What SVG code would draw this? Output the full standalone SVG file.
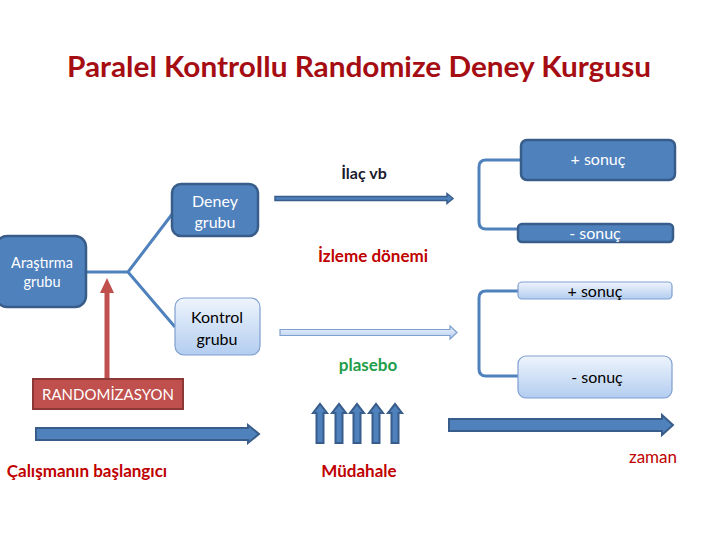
<svg xmlns="http://www.w3.org/2000/svg" width="720" height="540" viewBox="0 0 720 540">
<defs>
<linearGradient id="lg" x1="0" y1="0" x2="0" y2="1">
<stop offset="0" stop-color="#eef4fc"/>
<stop offset="1" stop-color="#b3cdf0"/>
</linearGradient>
<style>
text{font-family:Lato,"Open Sans","Liberation Sans",sans-serif;text-anchor:middle}
.dk{fill:#4f81bd;stroke:#385d8a;stroke-width:2.5}
.lt{fill:url(#lg);stroke:#7f9fcf;stroke-width:1.2}
.wt{fill:#ffffff;font-size:16px}
.bt{fill:#000000;font-size:16px}
.rd{fill:#c00000;font-size:17px;font-weight:bold}
.ln{fill:none;stroke:#4f81bd;stroke-width:3;stroke-linejoin:round}
.blk{fill:#4f81bd;stroke:#385d8a;stroke-width:2;stroke-linejoin:miter}
</style>
</defs>
<rect width="720" height="540" fill="#ffffff"/>
<text x="359" y="77" style="font-size:28px;font-weight:bold;fill:#a50d12" textLength="584" lengthAdjust="spacingAndGlyphs">Paralel Kontrollu Randomize Deney Kurgusu</text>

<g id="connectors">
<path class="ln" d="M86,272 H128 L173,213 M128,272 L175,327"/>
<path d="M107,378 V292" stroke="#c0504d" stroke-width="5" fill="none"/>
<path d="M100,293 L107,278 L114,293 Z" fill="#c0504d"/>
<path class="ln" d="M521,160 H486 Q479,160 479,167 V222 Q479,229 486,229 H518"/>
<path class="ln" d="M518,291 H486 Q479,291 479,298 V369 Q479,376 486,376 H518"/>
<path d="M275,196.5 H447 V193.5 L453,198.5 L447,203.5 V200.5 H275 Z" fill="#4f81bd" stroke="#385d8a" stroke-width="1.5"/>
<path d="M280,329.5 H450 V326 L457,332.5 L450,339 V335.5 H280 Z" fill="url(#lg)" stroke="#7f9fcf" stroke-width="1.2"/>
<path class="blk" d="M36,428 H248 V425 L259,434 L248,443 V440 H36 Z"/>
<path class="blk" d="M449,419 H662 V415 L673,425 L662,435 V431 H449 Z"/>
<g class="blk">
<path d="M316.5,443 V413 H313 L320,404 L327,413 H323.5 V443 Z"/>
<path d="M335.5,443 V413 H332 L339,404 L346,413 H342.5 V443 Z"/>
<path d="M353.5,443 V413 H350 L357,404 L364,413 H360.5 V443 Z"/>
<path d="M372.5,443 V413 H369 L376,404 L383,413 H379.5 V443 Z"/>
<path d="M391.5,443 V413 H388 L395,404 L402,413 H398.5 V443 Z"/>
</g>
</g>

<g id="arastirma">
<rect class="dk" x="-4" y="236" width="90" height="71" rx="11"/>
<text class="wt" x="42" y="268" style="font-size:14.5px">Araştırma</text>
<text class="wt" x="42" y="287" style="font-size:14.5px">grubu</text>
</g>
<g id="deney">
<rect class="dk" x="172" y="184" width="86" height="52" rx="9"/>
<text class="wt" x="215" y="207">Deney</text>
<text class="wt" x="215" y="228">grubu</text>
</g>
<g id="kontrol">
<rect class="lt" x="175" y="298" width="85" height="57" rx="9"/>
<text class="bt" x="217" y="323">Kontrol</text>
<text class="bt" x="217" y="345">grubu</text>
</g>
<g id="randomizasyon">
<rect x="33" y="379" width="150" height="30" fill="#c0504d" stroke="#8c3836" stroke-width="2"/>
<text class="wt" x="108" y="400" style="font-size:15px">RANDOMİZASYON</text>
</g>
<g id="sonuc1">
<rect class="dk" x="521" y="140" width="154" height="40" rx="6"/>
<text class="wt" x="598" y="165">+ sonuç</text>
</g>
<g id="sonuc2">
<rect class="dk" x="518" y="224" width="155" height="18" rx="4"/>
<text class="wt" x="595" y="239">- sonuç</text>
</g>
<g id="sonuc3">
<rect class="lt" x="518" y="282" width="154" height="17" rx="4"/>
<text class="bt" x="595" y="297">+ sonuç</text>
</g>
<g id="sonuc4">
<rect class="lt" x="518" y="356" width="154" height="42" rx="8"/>
<text class="bt" x="597" y="383">- sonuç</text>
</g>
<g id="labels">
<text x="364" y="179" style="font-size:16px;font-weight:bold;fill:#1a1a2e">İlaç vb</text>
<text class="rd" x="373" y="262">İzleme dönemi</text>
<text x="368" y="371" style="font-size:17px;font-weight:bold;fill:#1e9e4a">plasebo</text>
<text class="rd" x="87" y="477">Çalışmanın başlangıcı</text>
<text class="rd" x="359" y="477">Müdahale</text>
<text x="653" y="463" style="font-size:17px;fill:#c00000">zaman</text>
</g>
</svg>
